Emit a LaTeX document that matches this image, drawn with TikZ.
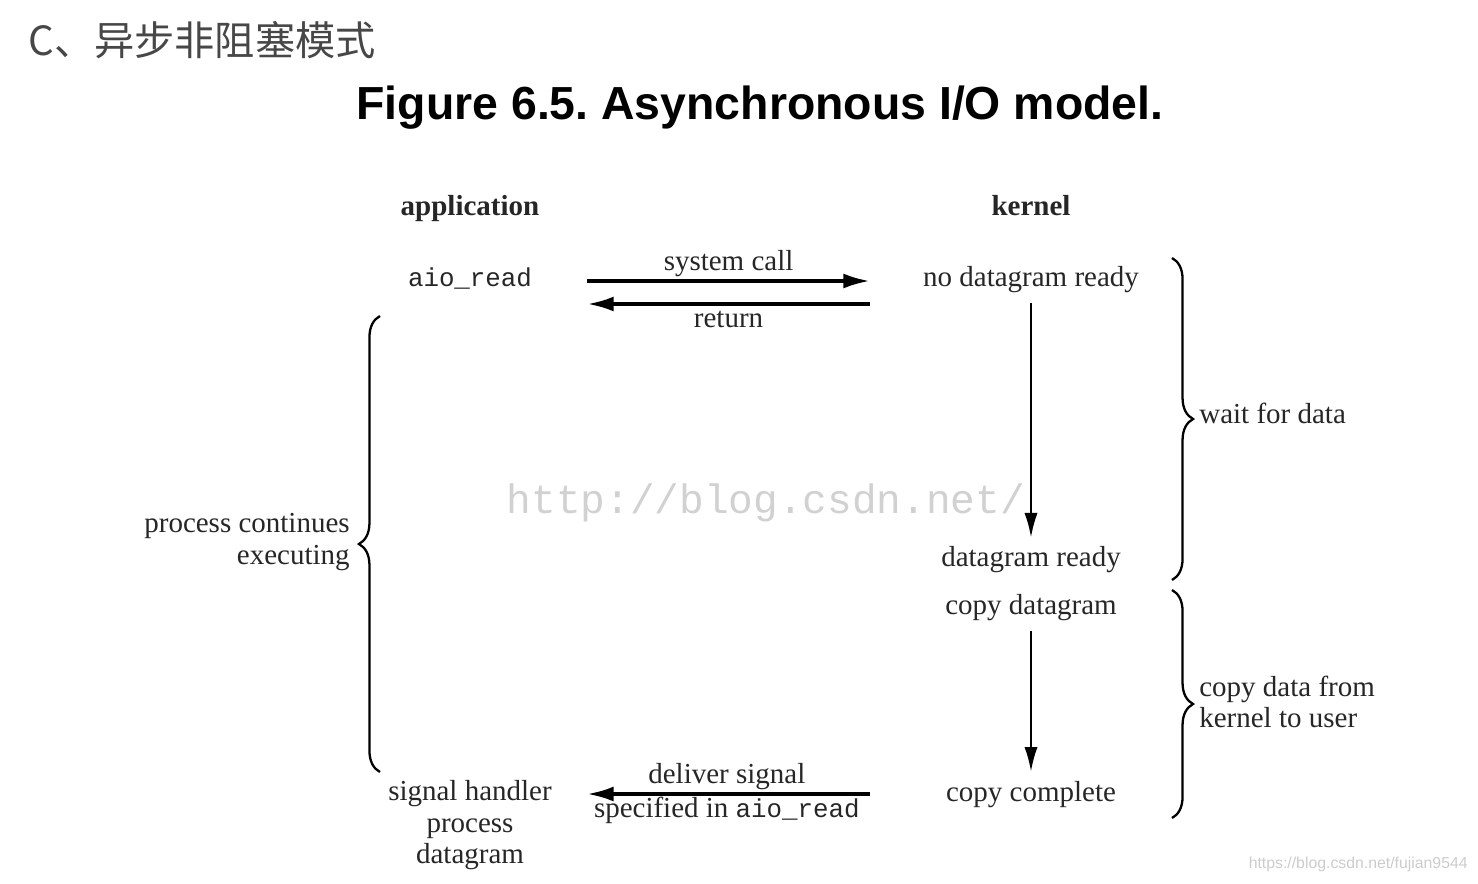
\documentclass[tikz,border=0pt]{standalone}
\usepackage{fontspec}
\setmainfont{Liberation Serif}
\setsansfont{Liberation Sans}
\setmonofont{Liberation Mono}
\newfontfamily\cjk{Noto Sans CJK SC}
\usetikzlibrary{ arrows.meta }
\usetikzlibrary{decorations.pathreplacing, positioning}

\newcommand{\aioread}{{\fontsize{14.7}{18}\selectfont\ttfamily aio\_read}}

\begin{document}
\begin{tikzpicture}[
    x=0.02cm, y=-0.02cm,
    >=Latex,
    every node/.style={font=\fontsize{16.5}{18}\selectfont, inner sep=0pt, text=black!85},
    tx/.style={text height=11.5pt, text depth=3.5pt},
    hd/.style={tx, font=\fontsize{16.5}{18}\selectfont\bfseries},
    fl/.style={-{Latex[length=15pt, width=8.5pt]}, line width=2pt},
    fv/.style={-{Latex[length=14pt, width=7.5pt]}, line width=1.3pt},
    llave/.style={decorate, decoration={brace, amplitude=12pt}, line width=1.3pt},
]
    \useasboundingbox (0,0) rectangle (1478,883);

    % Marcas de agua
    \node[font=\fontsize{23.4}{26}\selectfont\ttfamily, text=black!18] (wm) at (766,503) {http://blog.csdn.net/};
    \node[anchor=east, font=\fontsize{9}{11}\selectfont\sffamily, text=black!20] (url) at (1468,864) {https://blog.csdn.net/fujian9544};

    % Titulos
    \node[anchor=west, font=\fontsize{22.9}{26}\selectfont\cjk, text=black!72] (cab) at (28,40) {C、异步非阻塞模式};
    \node[font=\fontsize{26.4}{30}\selectfont\sffamily\bfseries, text=black] (tit) at (760,108) {Figure 6.5.\ Asynchronous I/O model.};

    % Columnas
    \node[hd] (app) at (470,208) {application};
    \node[hd] (ker) at (1031,208) {kernel};

    \node[tx] (aio)  at (470,279)  {\aioread};
    \node[tx] (nodg) at (1031,279) {no datagram ready};
    \node[tx] (dgr)  at (1031,559) {datagram ready};
    \node[tx] (cpdg) at (1031,607) {copy datagram};
    \node[tx] (cpc)  at (1031,794) {copy complete};
    \node[align=center, anchor=north] (sh) at (470,780) {signal handler\\process\\datagram};

    % aio_read -> kernel
    \draw[fl] ([shift={(55,2)}]aio.east) -- node[tx, above=1.2pt]{system call} ([shift={(-53,2)}]nodg.west);

    % kernel -> aio_read
    \draw[fl] ([shift={(-53,25)}]nodg.west) -- node[tx, below=1pt]{return} ([shift={(55,25)}]aio.east);

    % espera
    \draw[fv, shorten <=6pt, shorten >=4.5pt] (nodg) -- (dgr);

    % copia
    \draw[fv, shorten <=6pt, shorten >=5pt] (cpdg) -- (cpc);

    % senal
    \draw[fl, shorten <=43pt, shorten >=20pt] (cpc.west) -- node[tx, pos=0.556, above=1.2pt]{deliver signal}
        node[tx, pos=0.556, below=1pt]{specified in \aioread} (cpc.west -| sh.east);

    % Llaves
    \draw[llave] (380,772) -- (380,316);
    \draw[llave] (1172,258) -- (1172,580);
    \draw[llave] (1172,590) -- (1172,818);

    \node[anchor=east, align=right] (pce) at (350,542) {process continues\\executing};
    \node[tx, anchor=west] (wfd) at (1199,416) {wait for data};
    \node[anchor=west, align=left] (cdk) at (1199,702) {copy data from\\kernel to user};

\end{tikzpicture}
\end{document}
